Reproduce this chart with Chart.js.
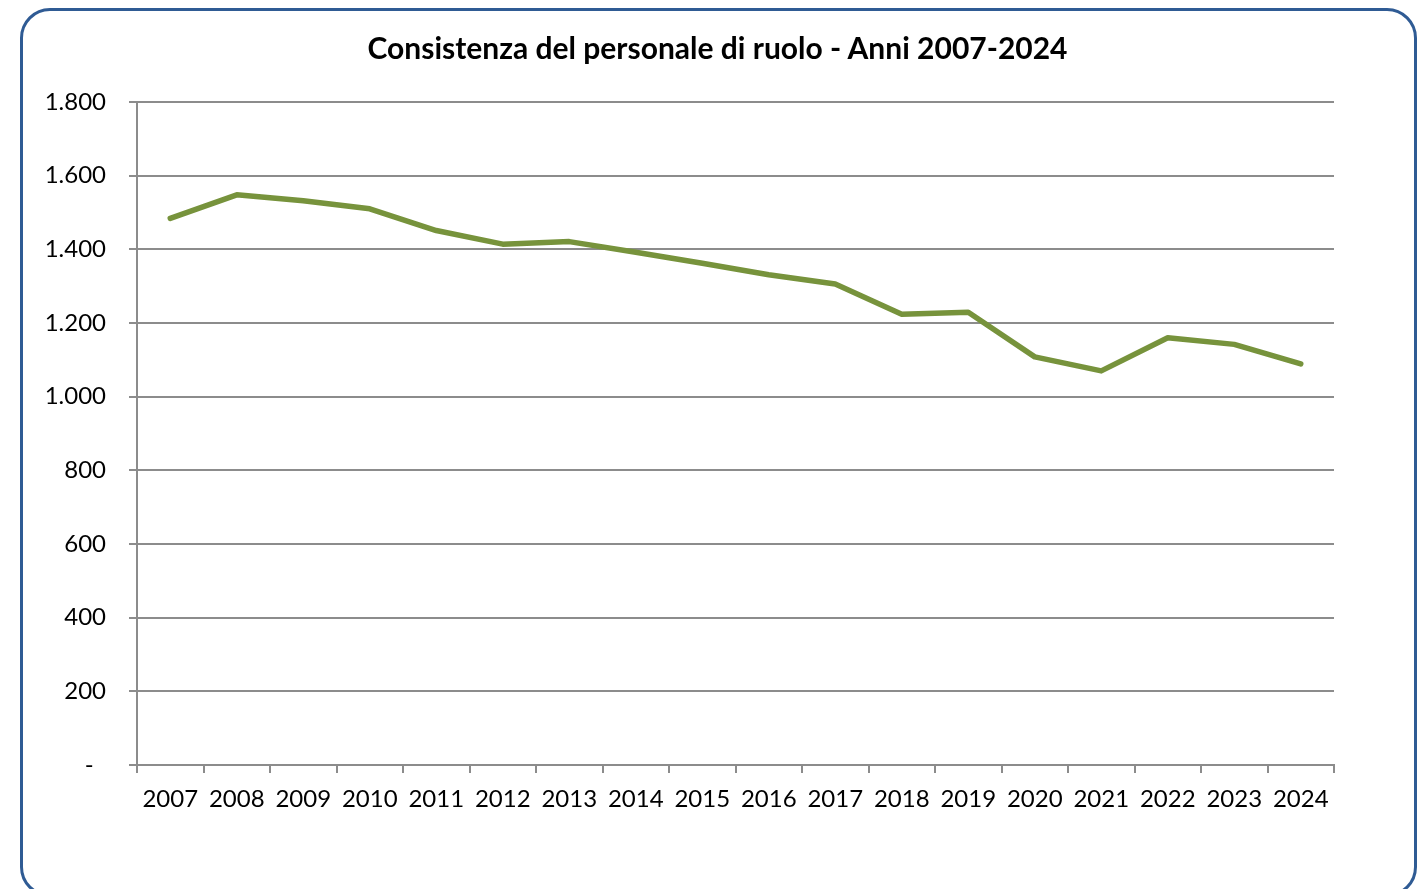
<!DOCTYPE html>
<html>
<head>
<meta charset="utf-8">
<script src="https://cdn.jsdelivr.net/npm/chart.js@4"></script>
<style>
    html, body { margin: 0; padding: 0; background: #fff; overflow: hidden; }
    #frame {
        position: absolute; left: 20px; top: 8px; width: 1397px; height: 889px;
        border: 3px solid #2f5b94; border-radius: 30px; box-sizing: border-box;
    }
    #wrap { position: absolute; left: 0; top: 0; width: 1423px; height: 889px; }
    #titolo {
        position: absolute; left: 0; top: 29px; width: 1435px; text-align: center;
        font: bold 30px Lato, "Open Sans", sans-serif; color: #000; white-space: nowrap;
    }
</style>
</head>
<body>
<div id="frame"></div>
<div id="wrap"><canvas id="personaleChart" width="1423" height="889"></canvas></div>
<div id="titolo">Consistenza del personale di ruolo - Anni 2007-2024</div>
<script>
// dati
const anni = ['2007', '2008', '2009', '2010', '2011', '2012', '2013', '2014', '2015',
              '2016', '2017', '2018', '2019', '2020', '2021', '2022', '2023', '2024'];
const personale = [1484, 1548, 1532, 1510, 1451, 1414, 1421, 1392, 1362,
                   1331, 1306, 1224, 1229, 1108, 1070, 1160, 1142, 1089];
const yTicks = [0, 200, 400, 600, 800, 1000, 1200, 1400, 1600, 1800];

const fontFamily = 'Lato, "Open Sans", sans-serif';

function formatMigliaia(v) {
    if (v === 0) return '-  ';
    return String(v).replace(/\B(?=(\d{3})+(?!\d))/g, '.');
}

document.addEventListener("DOMContentLoaded", function() {
    const ctx = document.getElementById('personaleChart').getContext('2d');
    const chart = new Chart(ctx, {
        type: 'line',
        data: {
            labels: anni,
            datasets: [{
                label: 'Personale di ruolo',
                data: personale,
                borderColor: '#77933c',
                backgroundColor: '#77933c',
                borderWidth: 5.5,
                borderCapStyle: 'round',
                borderJoinStyle: 'round',
                pointRadius: 0,
                tension: 0,
                fill: false
            }]
        },
        options: {
            responsive: false,
            animation: false,
            layout: {
                padding: { left: 20, right: 89, top: 102, bottom: 0 }
            },
            plugins: {
                legend: { display: false },
                tooltip: { enabled: false },
                title: { display: false }
            },
            scales: {
                x: {
                    offset: true,
                    afterFit: function(axis) { axis.height = 124; },
                    grid: {
                        offset: true,
                        drawOnChartArea: false,
                        drawTicks: true,
                        tickLength: 8,
                        color: '#8c8c8c',
                        lineWidth: 2
                    },
                    border: { color: '#8c8c8c', width: 2 },
                    ticks: {
                        color: '#000',
                        padding: 12,
                        maxRotation: 0,
                        autoSkip: false,
                        font: { family: fontFamily, size: 24 }
                    }
                },
                y: {
                    min: 0,
                    max: 1800,
                    afterFit: function(axis) { axis.width = 117; },
                    afterBuildTicks: function(axis) {
                        axis.ticks = yTicks.map(v => ({ value: v }));
                    },
                    grid: {
                        color: '#8c8c8c',
                        lineWidth: 2,
                        tickLength: 8
                    },
                    border: { color: '#8c8c8c', width: 2 },
                    ticks: {
                        color: '#000',
                        padding: 23,
                        font: { family: fontFamily, size: 24 },
                        callback: function(value) { return formatMigliaia(value); }
                    }
                }
            }
        }
    });
});
</script>
</body>
</html>
